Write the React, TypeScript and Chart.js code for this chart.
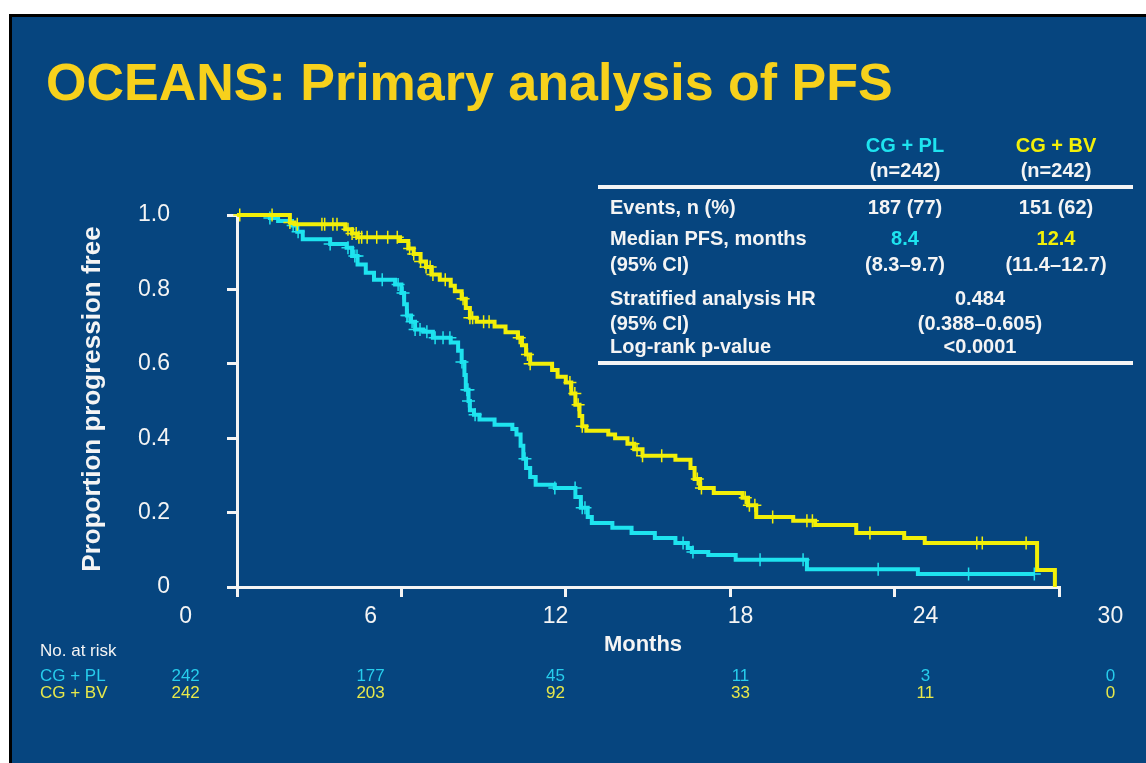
import React, { useEffect, useRef } from 'react';
import { Chart, registerables } from 'chart.js';

Chart.register(...registerables);

const TITLE = 'OCEANS: Primary analysis of PFS';
const Y_TITLE = 'Proportion progression free';
const X_TITLE = 'Months';
const X_TICKS = [0, 6, 12, 18, 24, 30];

// KM step data: time (months) of each drop and proportion after it
const PL_TIMES = [0, 1.2, 1.5, 2.0, 2.2, 2.4, 3.4, 4.0, 4.2, 4.4, 4.7, 5.0, 5.77, 6.0, 6.1, 6.2, 6.35, 6.5, 6.8, 7.15, 7.8, 8.07, 8.2, 8.3, 8.35, 8.45, 8.5, 8.65, 8.85, 9.4, 10.05, 10.2, 10.35, 10.45, 10.55, 10.7, 10.9, 11.6, 12.35, 12.55, 12.8, 12.95, 13.7, 14.4, 15.25, 16.0, 16.45, 16.6, 17.2, 18.2, 20.8, 24.85, 29.1];
const PL_SURV = [1, 0.992, 0.984, 0.972, 0.955, 0.935, 0.922, 0.912, 0.89, 0.867, 0.845, 0.826, 0.813, 0.79, 0.76, 0.73, 0.713, 0.692, 0.686, 0.67, 0.657, 0.635, 0.605, 0.57, 0.53, 0.5, 0.475, 0.463, 0.45, 0.436, 0.425, 0.41, 0.38, 0.345, 0.32, 0.296, 0.275, 0.266, 0.242, 0.213, 0.188, 0.172, 0.159, 0.145, 0.132, 0.118, 0.105, 0.094, 0.086, 0.073, 0.048, 0.035, 0.035];
const PL_CENSOR = [1.2, 2.05, 2.23, 3.4, 4.05, 4.3, 4.38, 5.3, 5.88, 6.06, 6.2, 6.24, 6.39, 6.5, 6.68, 6.93, 7.23, 7.52, 7.77, 8.21, 8.39, 8.43, 8.45, 8.69, 10.51, 11.6, 12.34, 12.6, 12.7, 16.28, 16.64, 19.09, 20.66, 23.4, 26.7, 29.1];

const BV_TIMES = [0, 1.93, 2.1, 3.95, 4.2, 4.4, 5.95, 6.25, 6.45, 6.7, 6.9, 7.1, 7.4, 7.8, 7.95, 8.2, 8.35, 8.5, 8.75, 9.4, 9.8, 10.25, 10.4, 10.55, 10.7, 11.5, 11.7, 12.0, 12.2, 12.35, 12.5, 12.6, 12.75, 13.55, 13.8, 14.25, 14.5, 14.8, 16.0, 16.55, 16.7, 16.9, 17.4, 18.45, 18.65, 18.95, 20.3, 21.1, 22.6, 24.35, 25.1, 29.2, 29.85];
const BV_SURV = [1, 0.98, 0.975, 0.962, 0.95, 0.94, 0.93, 0.91, 0.895, 0.875, 0.86, 0.84, 0.826, 0.81, 0.795, 0.775, 0.75, 0.724, 0.713, 0.7, 0.685, 0.67, 0.65, 0.625, 0.6, 0.583, 0.565, 0.55, 0.52, 0.49, 0.46, 0.432, 0.42, 0.41, 0.4, 0.385, 0.37, 0.353, 0.342, 0.32, 0.29, 0.266, 0.253, 0.24, 0.22, 0.188, 0.178, 0.167, 0.145, 0.132, 0.118, 0.046, 0];
const BV_CENSOR = [0.1, 1.28, 1.93, 2.2, 3.1, 3.2, 3.5, 3.65, 4.05, 4.2, 4.35, 4.45, 4.55, 4.75, 5.1, 5.5, 5.85, 6.3, 6.45, 6.7, 6.9, 7.05, 7.15, 7.6, 8.25, 8.5, 8.6, 9.0, 9.2, 10.3, 10.6, 10.7, 12.15, 12.33, 12.45, 12.6, 14.45, 14.6, 14.8, 15.5, 16.8, 16.95, 18.55, 18.7, 18.9, 19.55, 20.8, 21.0, 23.1, 27.0, 27.2, 28.8];

const RISK_LABEL = 'No. at risk';
const GROUPS = ['CG + PL', 'CG + BV'];
const RISK_PL = [242, 177, 45, 11, 3, 0];
const RISK_BV = [242, 203, 92, 33, 11, 0];

const HEAD_N = ['(n=242)', '(n=242)'];
const ROW_LABELS = ['Events, n (%)', 'Median PFS, months', '(95% CI)', 'Stratified analysis HR', '(95% CI)', 'Log-rank p-value'];
const ROW_PL = ['187 (77)', '8.4', '(8.3\u20139.7)'];
const ROW_BV = ['151 (62)', '12.4', '(11.4\u201312.7)'];
const ROW_BOTH = ['0.484', '(0.388\u20130.605)', '<0.0001'];

const BG = '#06457f';
const CYAN = '#1ee3ef';
const YELLOW = '#f2ef08';
const TITLE_YELLOW = '#f7d11c';
const WHITE = '#f4f4f4';
const FONT = '"Liberation Sans", Arial, Helvetica, sans-serif';

function survAt(times: number[], surv: number[], t: number) {
  let s = surv[0];
  for (let i = 0; i < times.length; i++) {
    if (times[i] <= t) s = surv[i];
  }
  return s;
}

const overlay = {
  id: 'overlay',
  afterDraw(chart: any) {
    const ctx = chart.ctx;
    const xs = chart.scales.x;
    ctx.save();
    // Title
    ctx.font = `bold 52px ${FONT}`;
    ctx.fillStyle = TITLE_YELLOW;
    ctx.textAlign = 'left';
    ctx.textBaseline = 'alphabetic';
    ctx.fillText(TITLE, 46, 100);

    // Table
    ctx.textBaseline = 'middle';
    ctx.font = `bold 20px ${FONT}`;
    const c1 = 905, c2 = 1056, cm = 980;
    ctx.textAlign = 'center';
    ctx.fillStyle = CYAN;
    ctx.fillText(GROUPS[0], c1, 146);
    ctx.fillStyle = YELLOW;
    ctx.fillText(GROUPS[1], c2, 146);
    ctx.fillStyle = WHITE;
    ctx.fillText(HEAD_N[0], c1, 171);
    ctx.fillText(HEAD_N[1], c2, 171);
    ctx.fillRect(598, 185, 535, 4);
    ctx.fillRect(598, 361, 535, 4);
    const rowY = [208, 239, 265, 299, 324, 347];
    ctx.textAlign = 'left';
    ROW_LABELS.forEach((l, i) => ctx.fillText(l, 610, rowY[i]));
    ctx.textAlign = 'center';
    ROW_PL.forEach((v, i) => {
      ctx.fillStyle = i === 1 ? CYAN : WHITE;
      ctx.fillText(v, c1, rowY[i]);
    });
    ROW_BV.forEach((v, i) => {
      ctx.fillStyle = i === 1 ? YELLOW : WHITE;
      ctx.fillText(v, c2, rowY[i]);
    });
    ctx.fillStyle = WHITE;
    ROW_BOTH.forEach((v, i) => ctx.fillText(v, cm, rowY[i + 3]));

    // Y title
    ctx.save();
    ctx.translate(93, 399);
    ctx.rotate(-Math.PI / 2);
    ctx.font = `bold 26px ${FONT}`;
    ctx.fillStyle = WHITE;
    ctx.textAlign = 'center';
    ctx.fillText(Y_TITLE, 0, 0);
    ctx.restore();

    // X tick labels and risk table (spread wider than the plotted axis)
    const cx = xs.getPixelForValue(15);
    const spread = 1.125;
    const lx = (v: number) => cx + (xs.getPixelForValue(v) - cx) * spread;
    ctx.font = `23px ${FONT}`;
    ctx.fillStyle = WHITE;
    ctx.textAlign = 'center';
    X_TICKS.forEach((v) => ctx.fillText(String(v), lx(v), 617));

    ctx.font = `bold 22px ${FONT}`;
    ctx.fillText(X_TITLE, 643, 645);

    ctx.font = `17px ${FONT}`;
    ctx.textAlign = 'left';
    ctx.fillStyle = WHITE;
    ctx.fillText(RISK_LABEL, 40, 651);
    ctx.fillStyle = '#27cdec';
    ctx.fillText(GROUPS[0], 40, 676);
    ctx.fillStyle = '#e8e84a';
    ctx.fillText(GROUPS[1], 40, 693);
    ctx.textAlign = 'center';
    X_TICKS.forEach((v, i) => {
      ctx.fillStyle = '#27cdec';
      ctx.fillText(String(RISK_PL[i]), lx(v), 676);
      ctx.fillStyle = '#e8e84a';
      ctx.fillText(String(RISK_BV[i]), lx(v), 693);
    });
    ctx.restore();
  },
};

export default function App() {
  const ref = useRef<HTMLCanvasElement | null>(null);
  useEffect(() => {
    if (!ref.current) return;
    const plLine = PL_TIMES.map((t, i) => ({ x: t, y: PL_SURV[i] }));
    const bvLine = BV_TIMES.map((t, i) => ({ x: t, y: BV_SURV[i] }));
    const plCens = PL_CENSOR.map((t) => ({ x: t, y: survAt(PL_TIMES, PL_SURV, t) }));
    const bvCens = BV_CENSOR.map((t) => ({ x: t, y: survAt(BV_TIMES, BV_SURV, t) }));
    const chart = new Chart(ref.current, {
      type: 'line',
      data: {
        datasets: [
          { type: 'scatter', label: 'BV censored', data: bvCens, pointStyle: 'cross', pointRadius: 6.5, borderColor: YELLOW, backgroundColor: YELLOW, pointBorderWidth: 1.5, showLine: false, clip: false } as any,
          { label: GROUPS[1], data: bvLine, stepped: 'before', borderColor: YELLOW, borderWidth: 4, pointRadius: 0, fill: false, clip: false } as any,
          { type: 'scatter', label: 'PL censored', data: plCens, pointStyle: 'cross', pointRadius: 6.5, borderColor: CYAN, backgroundColor: CYAN, pointBorderWidth: 1.5, showLine: false, clip: false } as any,
          { label: GROUPS[0], data: plLine, stepped: 'before', borderColor: CYAN, borderWidth: 4, pointRadius: 0, fill: false, clip: false } as any,
        ],
      },
      options: {
        responsive: false,
        animation: false,
        devicePixelRatio: 1,
        layout: { padding: { left: 117, right: 87, top: 215, bottom: 176 } },
        plugins: { legend: { display: false }, tooltip: { enabled: false } },
        scales: {
          x: {
            type: 'linear',
            min: 0,
            max: 30,
            afterFit: (s: any) => { s.height = 0; },
            ticks: { display: false, stepSize: 6 },
            grid: { display: true, drawOnChartArea: false, drawTicks: true, tickLength: 10, color: WHITE, lineWidth: 3 },
            border: { display: true, color: WHITE, width: 3 },
          },
          y: {
            type: 'linear',
            min: 0,
            max: 1,
            afterFit: (s: any) => { s.width = 120; },
            ticks: {
              stepSize: 0.2,
              color: WHITE,
              padding: 57,
              font: { family: FONT, size: 23 },
              callback: (v: any) => (Number(v) === 0 ? '0' : Number(v).toFixed(1)),
            },
            grid: { display: true, drawOnChartArea: false, drawTicks: true, tickLength: 10, color: WHITE, lineWidth: 3 },
            border: { display: true, color: WHITE, width: 3 },
          },
        },
      } as any,
      plugins: [overlay],
    });
    return () => chart.destroy();
  }, []);

  return (
    <div style={{ position: 'fixed', left: 0, top: 0, width: 1146, height: 763, background: '#ffffff', overflow: 'hidden' }}>
      <div style={{ position: 'absolute', left: 9, top: 14, width: 1146, height: 763, background: BG, borderLeft: '3px solid #000', borderTop: '3px solid #000' }} />
      <canvas ref={ref} width={1146} height={763} style={{ position: 'absolute', left: 0, top: 0, width: 1146, height: 763 }} />
    </div>
  );
}
